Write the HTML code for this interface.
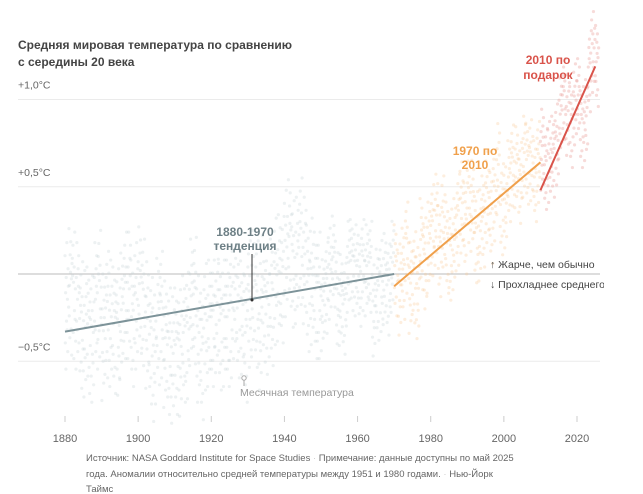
<!DOCTYPE html>
<html><head><meta charset="utf-8"><style>
body{margin:0;background:#fff;}
svg{display:block;font-family:"Liberation Sans",sans-serif;}
</style></head><body>
<svg id="chart" width="643" height="494">
<g id="grid"></g><g id="dots"></g><g id="lines"></g><g id="labels"></g>
</svg>
<script>
const years=[];for(let y=1880;y<=2025;y++)years.push(y);
const annual=[-0.17,-0.09,-0.11,-0.17,-0.28,-0.33,-0.31,-0.36,-0.17,-0.10,
-0.35,-0.22,-0.27,-0.31,-0.32,-0.23,-0.11,-0.11,-0.27,-0.17,
-0.08,-0.15,-0.28,-0.37,-0.47,-0.26,-0.22,-0.39,-0.43,-0.48,
-0.43,-0.44,-0.36,-0.34,-0.15,-0.14,-0.36,-0.46,-0.29,-0.27,
-0.27,-0.19,-0.29,-0.27,-0.27,-0.22,-0.11,-0.22,-0.20,-0.36,
-0.16,-0.10,-0.16,-0.29,-0.13,-0.20,-0.15,-0.03,-0.01,-0.02,
0.13,0.19,0.07,0.09,0.20,0.09,-0.07,-0.03,-0.11,-0.11,
-0.17,-0.07,0.01,0.08,-0.13,-0.14,-0.19,0.05,0.06,0.03,
-0.03,0.06,0.03,0.05,-0.20,-0.11,-0.06,-0.02,-0.08,0.05,
0.03,-0.08,0.01,0.16,-0.07,-0.01,-0.10,0.18,0.07,0.16,
0.26,0.32,0.14,0.31,0.16,0.12,0.18,0.32,0.39,0.27,
0.45,0.40,0.22,0.23,0.31,0.45,0.33,0.46,0.61,0.38,
0.39,0.54,0.63,0.62,0.53,0.68,0.64,0.66,0.54,0.65,
0.72,0.61,0.65,0.68,0.75,0.90,1.01,0.92,0.85,0.98,
1.01,0.85,0.89,1.17,1.28,1.20];
const monthOffsets=[0.22,-0.18,0.05,-0.30,0.12,-0.08,0.28,-0.12,0.02,-0.22,0.16,0.08];
const trendYears=[[1880,1970],[1970,2010],[2010,2025]];
const trendVals=[[-0.33,0.0],[-0.07,0.64],[0.48,1.19]];
const yTicks=[1.0,0.5,-0.5];
const yTickLabels=["+1,0°C","+0,5°C","−0,5°C"];
const xTicks=[1880,1900,1920,1940,1960,1980,2000,2020];
const NS="http://www.w3.org/2000/svg";
const X=y=>65+(y-1880)*(577-65)/140;
const Y=v=>274-v*174.5;
function mk(tag,attrs,parent,text){const e=document.createElementNS(NS,tag);for(const k in attrs)e.setAttribute(k,attrs[k]);if(text!==undefined)e.textContent=text;document.getElementById(parent).appendChild(e);return e;}
yTicks.forEach((t,i)=>{
 const g=mk('line',{x1:18,x2:600,y1:Y(t),y2:Y(t),stroke:'#ebebeb','stroke-width':1},'grid');
 
 
 const l=mk('text',{x:18,y:Y(t)-11,'font-size':10.5,fill:'#666'},'grid',yTickLabels[i]);
 
 
});
const z=mk('line',{x1:18,x2:600,y1:Y(0),y2:Y(0),stroke:'#bbb','stroke-width':1},'grid');


xTicks.forEach(t=>{
 const tk=mk('line',{x1:X(t),x2:X(t),y1:416,y2:422,stroke:'#ccc'},'grid');
 
 
 const l=mk('text',{x:X(t),y:442,'font-size':11,fill:'#666','text-anchor':'middle'},'grid',t);
 
 
});
years.forEach((yr,i)=>{
 const col=yr<1970?'#c5d0d3':(yr<2010?'#f8c791':'#eba4a0');
 const op=yr<1970?0.3:(yr<2010?0.3:0.4);
 const spread=yr<1950?1.25:(yr<2000?0.9:0.8);
 for(let m=0;m<12;m++){
  const off=monthOffsets[(m+i*5)%12]*spread;
  const d=mk('circle',{cx:X(yr+m/12),cy:Y(annual[i]+off),r:1.6,fill:col,'fill-opacity':op},'dots');
  
  
 }
});
const tc=['#7d9399','#f0a04b','#d9534a'];
const tn=['trend-1880-1970','trend-1970-2010','trend-2010-present'];
trendYears.forEach((ty,i)=>{
 const l=mk('line',{x1:X(ty[0]),y1:Y(trendVals[i][0]),x2:X(ty[1]),y2:Y(trendVals[i][1]),stroke:tc[i],'stroke-width':2},'lines');
 
 
});
</script>
<svg width="643" height="494" style="position:absolute;left:0;top:0">
<g font-family="Liberation Sans, sans-serif">
<text x="18" y="49" font-size="12" font-weight="bold" fill="#444">Средняя мировая температура по сравнению</text>
<text x="18" y="66" font-size="12" font-weight="bold" fill="#444">с середины 20 века</text>
<g font-weight="bold" font-size="12" text-anchor="middle">
<text x="245" y="236" fill="#6e8086">1880-1970</text>
<text x="245" y="250" fill="#6e8086">тенденция</text>
<text x="475" y="155" fill="#f0a04b">1970 по</text>
<text x="475" y="169" fill="#f0a04b">2010</text>
<text x="548" y="64" fill="#d9534a">2010 по</text>
<text x="548" y="79" fill="#d9534a">подарок</text>
</g>
<line x1="252" y1="254" x2="252" y2="300" stroke="#333" stroke-width="1"/>
<circle cx="252" cy="300" r="1.5" fill="#333"/>
<text x="490" y="268" font-size="10.5" fill="#444">↑ Жарче, чем обычно</text>
<svg x="0" y="0" width="604" height="494" overflow="hidden"><text x="490" y="288" font-size="10.5" fill="#444">↓ Прохладнее среднего</text></svg>
<circle cx="244" cy="378" r="2.2" fill="none" stroke="#aaa"/>
<line x1="244" y1="380" x2="244" y2="386" stroke="#aaa"/>
<text x="240" y="396" font-size="10.5" fill="#999">Месячная температура</text>
<g font-size="9.5" fill="#666">
<text x="86" y="461">Источник: NASA Goddard Institute for Space Studies  <tspan fill="#ccc">·</tspan>  Примечание: данные доступны по май 2025</text>
<text x="86" y="477">года. Аномалии относительно средней температуры между 1951 и 1980 годами.  <tspan fill="#ccc">·</tspan>  Нью-Йорк</text>
<text x="86" y="492">Таймс</text>
</g>
</g>
</svg>
</body></html>
